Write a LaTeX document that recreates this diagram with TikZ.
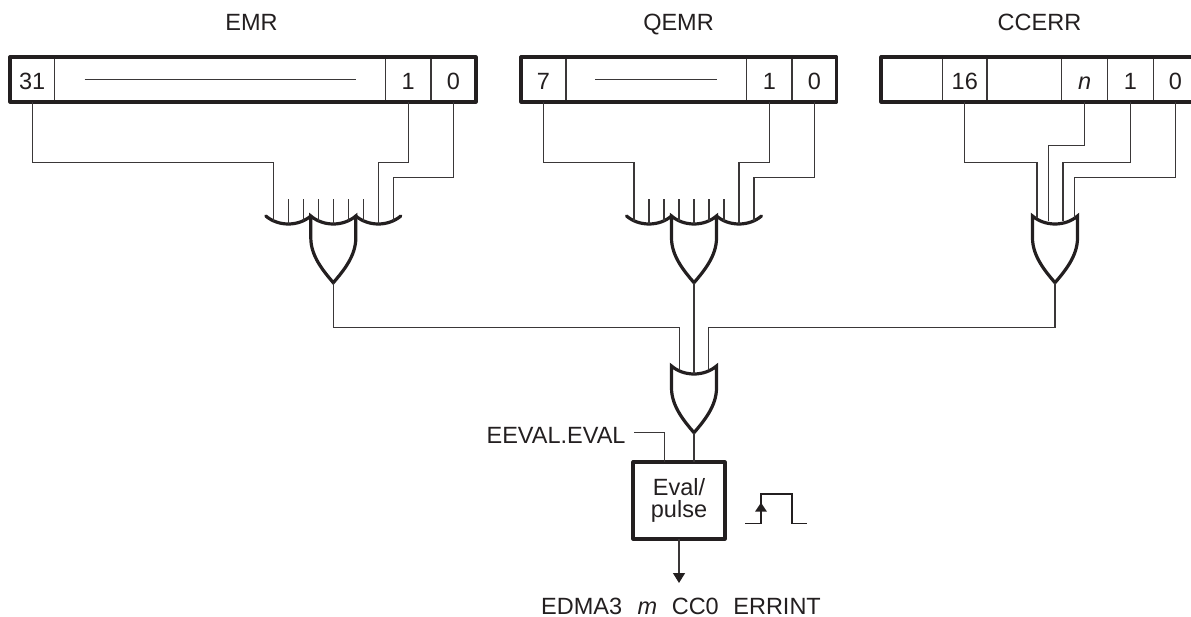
\documentclass[tikz,border=0pt]{standalone}
\usepackage{fontspec}
\setmainfont{Liberation Sans}
\usetikzlibrary{arrows.meta}
\definecolor{ink}{HTML}{231F20}
\definecolor{wireink}{HTML}{3A3738}
\tikzset{
  wire/.style={draw=wireink,line width=1.3pt},
  heavy/.style={draw=ink,line width=3.2pt,line join=round},
  gateline/.style={draw=ink,line width=3.2pt,line join=miter,line cap=round},
  cell/.style={draw=wireink,line width=1.3pt,minimum height=45pt,inner sep=0pt,outer sep=0pt,text height=21pt,text depth=0pt,text=ink},
  lastcell/.style={cell,draw=none},
  frame/.style={heavy,minimum height=45pt,inner sep=0pt,outer sep=0pt},
  lbl/.style={text=ink,inner sep=0pt,outer sep=0pt},
}
% #1 name, #2 x of the centre, #3 y of the notch
\newcommand{\orcore}[3]{%
  \begin{scope}[shift={(#2,#3)}]
    \coordinate (#1-out) at (0,58.7);
    \coordinate (#1-b) at (0,0);
    \draw[gateline] (-22.5,-8) .. controls (-10,2.67) and (10,2.67) .. (22.5,-8)
      -- (22.5,14) .. controls (22.5,32) and (10,47) .. (0,58.7)
      .. controls (-10,47) and (-22.5,32) .. (-22.5,14) -- cycle;
  \end{scope}}
% the wide input form, with its wings and six short stubs
\newcommand{\orwide}[3]{%
  \orcore{#1}{#2}{#3}%
  \begin{scope}[shift={(#2,#3)}]
    \coordinate (#1-w1) at (-60,-3.2);
    \coordinate (#1-w2) at (45,0);
    \coordinate (#1-w3) at (60,-3.2);
    \draw[gateline] (-22.5,-8) .. controls (-35,2.67) and (-55,2.67) .. (-67.5,-8);
    \draw[gateline] (22.5,-8) .. controls (35,2.67) and (55,2.67) .. (67.5,-8);
    \foreach \dx/\dy in {-45/0,-30/-3,-15/-3,0/0,15/-3,30/-3}
      \draw[wire] (\dx,-24.7) -- (\dx,\dy);
  \end{scope}}
\begin{document}
\begin{tikzpicture}[x=1pt,y=-1pt,every node/.style={font=\fontsize{23.5}{23}\selectfont}]
\useasboundingbox (0,0) rectangle (1191,617);
% titles
\node[lbl,anchor=base] (temr) at (251.5,30.7) {EMR};
\node[lbl,anchor=base] (tqemr) at (678.5,30.7) {QEMR};
\node[lbl,anchor=base] (tccerr) at (1039.5,30.7) {CCERR};
% EMR
\node[cell,minimum width=44.5pt] (e31) at (32.25,79.5) {31};
\node[cell,minimum width=331pt] (emid) at (220,79.5) {};
\node[cell,minimum width=45.5pt] (e1) at (408.25,79.5) {1};
\node[cell,minimum width=45pt] (e0) at (453.5,79.5) {0};
\node[frame,draw,minimum width=466pt] (emr) at (243,79.5) {};
\draw[wire] ([xshift=-135.5pt]emid.center) -- ([xshift=135.5pt]emid.center);
% QEMR
\node[cell,minimum width=45pt] (q7) at (543.5,79.5) {7};
\node[cell,minimum width=180.7pt] (qmid) at (656.35,79.5) {};
\node[cell,minimum width=45.3pt] (q1) at (769.35,79.5) {1};
\node[cell,minimum width=44.7pt] (q0) at (814.35,79.5) {0};
\node[frame,draw,minimum width=315.7pt] (qemr) at (678.85,79.5) {};
\draw[wire] ([xshift=-61pt]qmid.center) -- ([xshift=61pt]qmid.center);
% CCERR
\node[cell,minimum width=61.5pt] (c0a) at (911.75,79.5) {};
\node[cell,minimum width=44.5pt] (c16) at (964.75,79.5) {16};
\node[cell,minimum width=74.5pt] (cmid) at (1024.25,79.5) {};
\node[cell,minimum width=46.2pt] (cn) at (1084.6,79.5) {\itshape n};
\node[cell,minimum width=45.6pt] (c1) at (1130.5,79.5) {1};
\node[lastcell,minimum width=31pt] (c0) at (1175.3,79.5) {0};
\draw[heavy] (c0.north east) -- (c0a.north west) -- (c0a.south west) -- (c0.south east);
% gates
\orwide{ga}{333.3}{224}
\orwide{gb}{694}{224}
\orcore{gc}{1055}{224}
\orcore{gd}{694}{374}
\coordinate (gc-p) at (1037,218.5);
\coordinate (gc-q) at (1048.5,221.5);
\coordinate (gc-r) at (1063,221.5);
\coordinate (gc-s) at (1074.5,218.5);
% register to gate wires
\coordinate (e31y) at (0,162.5);
\coordinate (e0y) at (0,177.5);
\draw[wire] (e31.south) |- (e31y -| ga-w1) -- (ga-w1);
\draw[wire] (e1.south) |- (e31y -| ga-w2) -- (ga-w2);
\draw[wire] (e0.south) |- (e0y -| ga-w3) -- (ga-w3);
\draw[wire] (q7.south) |- (e31y -| gb-w1) -- (gb-w1);
\draw[wire] (q1.south) |- (e31y -| gb-w2) -- (gb-w2);
\draw[wire] (q0.south) |- (e0y -| gb-w3) -- (gb-w3);
\coordinate (cny) at (0,145.5);
\draw[wire] (c16.south) |- (e31y -| gc-p) -- (gc-p);
\draw[wire] (cn.south) |- (cny -| gc-q) -- (gc-q);
\draw[wire] (c1.south) |- (e31y -| gc-r) -- (gc-r);
\draw[wire] (c0.south) |- (e0y -| gc-s) -- (gc-s);
% gate to gate wires
\coordinate (busy) at (0,327.5);
\coordinate (gd-l) at (679.5,369);
\coordinate (gd-r) at (708.5,369);
\draw[wire] (ga-out) |- (busy -| gd-l) -- (gd-l);
\draw[wire] (gb-out) -- (gd-b);
\draw[wire] (gc-out) |- (busy -| gd-r) -- (gd-r);
% evaluation block
\node[heavy,draw,minimum width=92pt,minimum height=77pt,inner sep=0pt,outer sep=0pt,align=center,text=ink] (ev) at (679,500.5) {\raisebox{-2pt}{Eval/}\\\raisebox{-1pt}{pulse}};
\draw[wire] (gd-out) -- (gd-out |- ev.north);
\node[lbl,anchor=base east] (eeval) at (625.5,443.3) {EEVAL.EVAL};
\coordinate (evs) at (634,432.7);
\coordinate (evt) at (664.5,432.7);
\draw[wire] (evs) -- (evt) -- (evt |- ev.north);
% pulse glyph
\draw[draw=ink,line width=1.6pt] (745.3,523.3) -- (761,523.3) -- (761,494) -- (791.7,494) -- (791.7,523.3) -- (806.7,523.3);
\fill[ink] (761,502.7) -- (767,511.7) -- (755,511.7) -- cycle;
% output
\node[lbl,anchor=base] (out) at (681,614) {EDMA3\hspace{0.66em}\textit{m}\hspace{0.62em}CC0\hspace{0.62em}ERRINT};
\coordinate (outtip) at (ev.south |- 0,583);
\draw[wire,-{Triangle[length=10pt,width=12pt,color=ink]}] (ev.south) -- (outtip);
\end{tikzpicture}
\end{document}
